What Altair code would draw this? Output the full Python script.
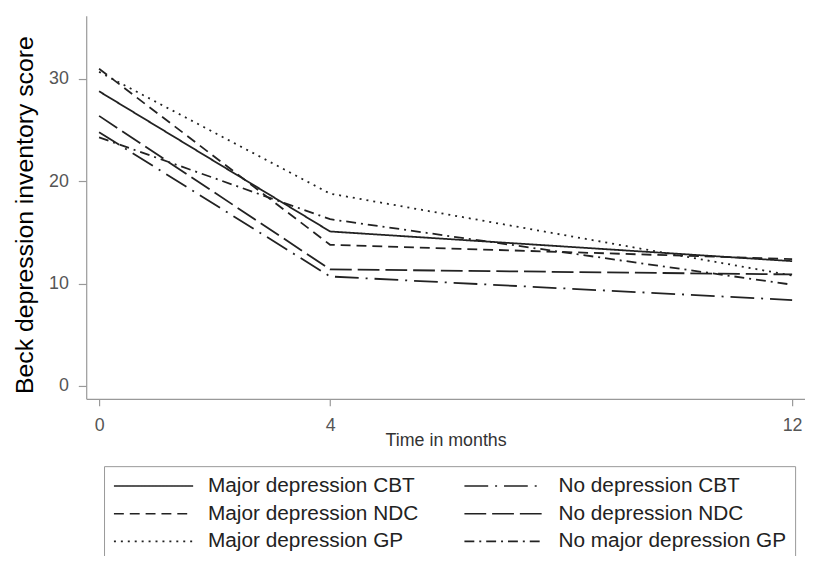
import altair as alt
import pandas as pd

months = [0, 4, 12]
series_names = [
    "Major depression CBT",
    "Major depression NDC",
    "Major depression GP",
    "No depression CBT",
    "No depression NDC",
    "No major depression GP",
]
major_cbt = [28.8, 15.1, 12.2]
major_ndc = [31.0, 13.8, 12.4]
major_gp = [30.7, 18.8, 10.8]
no_cbt = [24.8, 10.7, 8.4]
no_ndc = [26.4, 11.4, 10.9]
no_major_gp = [24.3, 16.3, 9.9]

values = [major_cbt, major_ndc, major_gp, no_cbt, no_ndc, no_major_gp]
dashes = [[1, 0], [10, 6], [2, 5], [24, 7, 2, 7], [22, 6], [10, 5, 2, 5]]

rows = []
for name, vals in zip(series_names, values):
    for m, v in zip(months, vals):
        rows.append({"series": name, "month": m, "score": v})
df = pd.DataFrame(rows)

FONT = "Liberation Sans"

chart = (
    alt.Chart(df)
    .mark_line(strokeWidth=1.8, color="#222222")
    .encode(
        x=alt.X(
            "month:Q",
            scale=alt.Scale(domain=[-0.2229, 12.2229], nice=False, zero=False),
            axis=alt.Axis(
                values=months,
                title="Time in months",
                titleX=363,
                titleY=47,
                titleBaseline="alphabetic",
                titleAlign="center",
                tickSize=7,
                labelPadding=11,
            ),
        ),
        y=alt.Y(
            "score:Q",
            scale=alt.Scale(domain=[-1.258, 36.194], nice=False, zero=False),
            axis=alt.Axis(
                values=[0, 10, 20, 30],
                title="Beck depression inventory score",
                titleX=-54,
                titleY=201,
                titleAngle=270,
                titleAlign="center",
                titleBaseline="alphabetic",
                titleFontSize=25,
                titleColor="#000000",
                tickSize=8,
                labelPadding=10,
            ),
        ),
        strokeDash=alt.StrokeDash(
            "series:N",
            scale=alt.Scale(domain=series_names, range=dashes),
            sort=series_names,
            legend=alt.Legend(
                title=None,
                orient="none",
                direction="vertical",
                legendX=18,
                legendY=455,
                columns=2,
                symbolType="M-1,0H7",
                symbolSize=400,
                symbolStrokeWidth=1.6,
                symbolStrokeColor="#222222",
                symbolFillColor="transparent",
                labelFontSize=21,
                labelFont=FONT,
                labelColor="#222222",
                labelOffset=74,
                labelLimit=400,
                rowPadding=7,
                columnPadding=42,
                strokeColor="#999999",
                padding=9,
            ),
        ),
        order="month:Q",
    )
    .properties(
        width=726,
        height=387,
        autosize=alt.AutoSizeParams(type="none"),
        padding={"left": 79, "top": 5, "right": 0, "bottom": 156},
    )
    .configure_axis(
        grid=False,
        labelFont=FONT,
        titleFont=FONT,
        labelFontSize=18,
        labelColor="#555555",
        titleFontSize=18,
        titleFontWeight="normal",
        titleColor="#333333",
        domainColor="#999999",
        tickColor="#999999",
        domainWidth=1.2,
        tickWidth=1.2,
    )
    .configure_view(strokeWidth=0)
)

chart.save("out.html", embed_options={"renderer": "svg", "actions": False})
